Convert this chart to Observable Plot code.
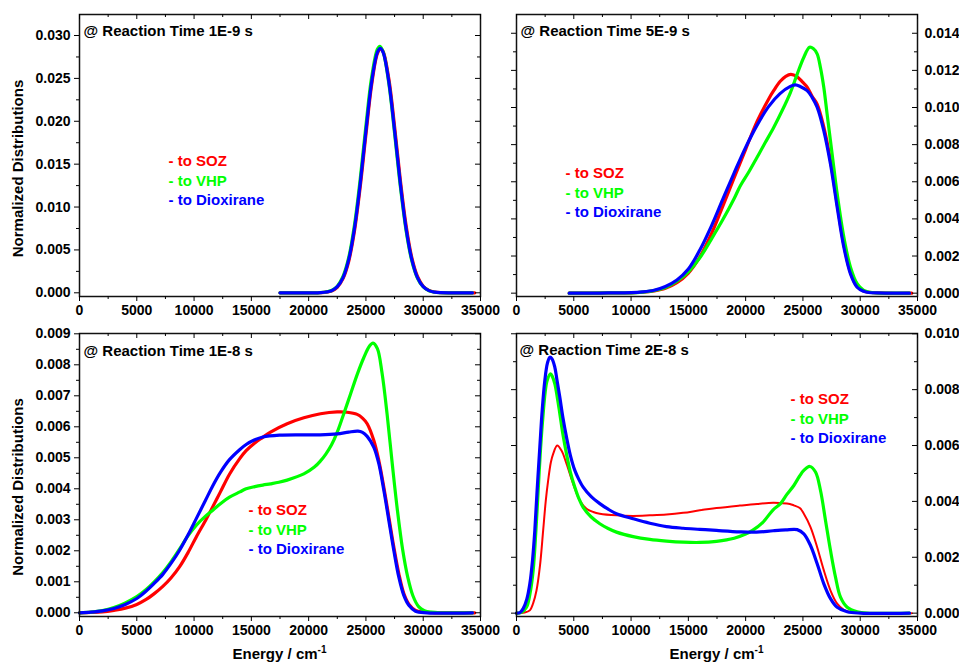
<!DOCTYPE html>
<html>
<head>
<meta charset="utf-8">
<script src="https://cdn.jsdelivr.net/npm/d3@7"></script>
<script src="https://cdn.jsdelivr.net/npm/@observablehq/plot@0.6"></script>
<style>
html, body { margin: 0; padding: 0; background: #fff; }
#chart { position: relative; width: 959px; height: 662px; font-family: "Liberation Sans", Arial, sans-serif; }
#chart svg { position: absolute; overflow: visible; background: transparent; }
.xlab { position: absolute; font-weight: bold; font-size: 15px; white-space: nowrap; transform: translate(-50%, -50%); line-height: 1; color: #000; }
.xlab sup { font-size: 10px; vertical-align: 0; position: relative; top: -6px; }
</style>
</head>
<body>
<div id="chart"></div>
<script>
// ---------- tick values ----------
const xMajor = [0, 5000, 10000, 15000, 20000, 25000, 30000, 35000];
const xMinor = [2500, 7500, 12500, 17500, 22500, 27500, 32500];
const yMajor_1e9 = [0, 0.005, 0.010, 0.015, 0.020, 0.025, 0.030];
const yMinor_1e9 = [0.0025, 0.0075, 0.0125, 0.0175, 0.0225, 0.0275];
const yMajor_5e9 = [0, 0.002, 0.004, 0.006, 0.008, 0.010, 0.012, 0.014];
const yMinor_5e9 = [0.001, 0.003, 0.005, 0.007, 0.009, 0.011, 0.013];
const yMajor_1e8 = [0, 0.001, 0.002, 0.003, 0.004, 0.005, 0.006, 0.007, 0.008, 0.009];
const yMinor_1e8 = [0.0005, 0.0015, 0.0025, 0.0035, 0.0045, 0.0055, 0.0065, 0.0075, 0.0085];
const yMajor_2e8 = [0, 0.002, 0.004, 0.006, 0.008, 0.010];
const yMinor_2e8 = [0.001, 0.003, 0.005, 0.007, 0.009];

// ---------- texts ----------
const titles = ["@ Reaction Time 1E-9 s", "@ Reaction Time 5E-9 s", "@ Reaction Time 1E-8 s", "@ Reaction Time 2E-8 s"];
const seriesNames = ["- to SOZ", "- to VHP", "- to Dioxirane"];
const seriesColors = ["#ff0000", "#00ff00", "#0000ff"];
const yTitle = "Normalized Distributions";

// ---------- data: [energy cm-1, normalized distribution] ----------
// Reaction time 1E-9 s
const soz_1e9 = [[17500,0],[20000,0],[21000,0.00002],[22000,0.00022],[22500,0.00065],[23000,0.00165],[23500,0.00368],[24000,0.00720],[24500,0.01232],[25000,0.01845],[25500,0.02425],[26000,0.02790],[26280,0.02845],[26500,0.02815],[27000,0.02495],[27500,0.01940],[28000,0.01320],[28500,0.00790],[29000,0.00413],[29500,0.00190],[30000,0.00077],[30500,0.00028],[31000,0.00009],[31500,0.00002],[32500,0],[34500,0]];
const vhp_1e9 = [[17500,0],[20000,0],[21000,0.00002],[22000,0.00028],[22500,0.00077],[23000,0.00190],[23500,0.00412],[24000,0.00790],[24500,0.01325],[25000,0.01950],[25500,0.02515],[26000,0.02840],[26220,0.02875],[26500,0.02810],[27000,0.02440],[27500,0.01860],[28000,0.01245],[28500,0.00730],[29000,0.00375],[29500,0.00170],[30000,0.00068],[30500,0.00024],[31000,0.00007],[31500,0.00002],[32500,0],[34300,0]];
const dio_1e9 = [[17500,0],[20000,0],[21000,0.00002],[22000,0.00025],[22500,0.00071],[23000,0.00178],[23500,0.00391],[24000,0.00754],[24500,0.01275],[25000,0.01891],[25500,0.02459],[26000,0.02804],[26250,0.02850],[26500,0.02804],[27000,0.02459],[27500,0.01891],[28000,0.01275],[28500,0.00754],[29000,0.00391],[29500,0.00178],[30000,0.00071],[30500,0.00025],[31000,0.00008],[31500,0.00002],[32500,0],[34300,0]];

// Reaction time 5E-9 s
const soz_5e9 = [[4600,0],[8000,0.00001],[10000,0.00002],[11000,0.00005],[12000,0.00012],[13000,0.00026],[14000,0.00056],[15000,0.00108],[16000,0.00195],[17000,0.00318],[18000,0.00468],[19000,0.00622],[20000,0.00775],[21000,0.00925],[22000,0.01045],[22460,0.01092],[23000,0.01140],[23500,0.01168],[23950,0.01178],[24500,0.01165],[25000,0.01135],[25370,0.01110],[25800,0.01060],[26240,0.01018],[26820,0.00895],[27400,0.00716],[27990,0.00480],[28570,0.00262],[29150,0.00112],[29730,0.00036],[30300,0.00011],[30600,0.00006],[31500,0.00001],[34500,0]];
const vhp_5e9 = [[4600,0],[8000,0.00001],[10000,0.00002],[11000,0.00006],[12000,0.00014],[13000,0.00030],[14000,0.00064],[15000,0.00115],[16000,0.00190],[17000,0.00290],[18000,0.00395],[19000,0.00510],[19550,0.00580],[20300,0.00655],[21000,0.00732],[21700,0.00810],[22460,0.00894],[23200,0.00985],[23915,0.01082],[24500,0.01180],[25080,0.01271],[25575,0.01325],[25900,0.01318],[26240,0.01289],[26530,0.01215],[26820,0.01109],[27100,0.00970],[27400,0.00822],[27700,0.00675],[27990,0.00535],[28570,0.00302],[29150,0.00140],[29730,0.00051],[30310,0.00015],[31190,0.00002],[32000,0],[34300,0]];
const dio_5e9 = [[4600,0],[6000,0],[8000,0.00001],[10000,0.00003],[11000,0.00007],[12000,0.00016],[13000,0.00036],[14000,0.00071],[15000,0.00130],[16000,0.00232],[17000,0.00360],[18000,0.00505],[19000,0.00648],[20000,0.00785],[21000,0.00905],[22000,0.01005],[23000,0.01075],[23900,0.01114],[24350,0.01122],[24800,0.01112],[25370,0.01091],[25800,0.01055],[26240,0.01002],[26820,0.00876],[27400,0.00697],[27990,0.00463],[28570,0.00248],[29150,0.00104],[29730,0.00032],[30300,0.00010],[30600,0.00005],[31500,0.00001],[34300,0]];

// Reaction time 1E-8 s
const soz_1e8 = [[0,0],[1000,0.00001],[2000,0.00003],[3000,0.00008],[4000,0.00015],[5000,0.00027],[5818,0.00043],[6500,0.00061],[7273,0.00085],[8000,0.00113],[8727,0.00148],[9500,0.00196],[10182,0.00244],[11000,0.00298],[11490,0.00332],[12300,0.00390],[13091,0.00447],[14000,0.00498],[14545,0.00523],[15300,0.00548],[16000,0.00566],[16671,0.00583],[18125,0.00610],[19580,0.00629],[21035,0.00642],[22489,0.00648],[23362,0.00647],[24236,0.00640],[24700,0.00628],[25108,0.00610],[25690,0.00556],[26126,0.00491],[26563,0.00405],[26999,0.00309],[27435,0.00212],[27872,0.00126],[28308,0.00062],[28745,0.00028],[29326,0.00008],[30000,0.00002],[31000,0],[34500,0]];
const vhp_1e8 = [[0,0],[1000,0.00002],[2000,0.00007],[3000,0.00017],[4000,0.00032],[5000,0.00052],[5818,0.00075],[6500,0.00099],[7273,0.00130],[8000,0.00165],[8727,0.00205],[9400,0.00245],[10182,0.00282],[11000,0.00312],[11636,0.00331],[12300,0.00352],[13091,0.00373],[14000,0.00390],[14545,0.00400],[15300,0.00407],[16000,0.00412],[16671,0.00416],[17400,0.00421],[18125,0.00428],[19580,0.00448],[20500,0.00470],[21035,0.00490],[21500,0.00512],[22000,0.00542],[22489,0.00582],[23000,0.00635],[23650,0.00705],[24250,0.00770],[24800,0.00822],[25300,0.00860],[25620,0.00870],[26000,0.00852],[26400,0.00775],[26850,0.00640],[27300,0.00480],[27750,0.00330],[28200,0.00205],[28650,0.00115],[29100,0.00055],[29600,0.00020],[30100,0.00007],[30700,0.00002],[31500,0],[34300,0]];
const dio_1e8 = [[0,0],[1000,0.00002],[2000,0.00006],[3000,0.00014],[4000,0.00027],[5000,0.00046],[5818,0.00070],[6500,0.00094],[7273,0.00124],[8000,0.00160],[8727,0.00201],[9500,0.00253],[10182,0.00303],[11000,0.00363],[11636,0.00410],[12300,0.00453],[13091,0.00494],[14000,0.00527],[14545,0.00543],[15300,0.00558],[16000,0.00567],[17454,0.00573],[19580,0.00574],[21000,0.00574],[22489,0.00577],[23500,0.00583],[24300,0.00586],[24700,0.00582],[25108,0.00569],[25690,0.00534],[26126,0.00481],[26563,0.00395],[26999,0.00298],[27435,0.00201],[27872,0.00115],[28308,0.00056],[28745,0.00024],[29326,0.00005],[30345,0],[34300,0]];

// Reaction time 2E-8 s
const soz_2e8 = [[0,0],[700,0.00002],[1164,0.00010],[1450,0.00035],[1745,0.00081],[2050,0.00170],[2327,0.00296],[2550,0.00400],[2764,0.00475],[3000,0.00540],[3200,0.00570],[3549,0.00600],[3927,0.00582],[4364,0.00535],[4945,0.00463],[5527,0.00403],[6109,0.00374],[6700,0.00362],[7273,0.00356],[8727,0.00350],[10182,0.00348],[11636,0.00350],[13091,0.00353],[14545,0.00359],[16000,0.00368],[17454,0.00376],[19493,0.00385],[21000,0.00391],[22402,0.00395],[23043,0.00394],[23857,0.00391],[24207,0.00386],[24729,0.00376],[25079,0.00356],[25661,0.00308],[26243,0.00236],[26825,0.00153],[27407,0.00081],[27988,0.00034],[28570,0.00012],[29443,0.00002],[30500,0],[34500,0]];
const vhp_2e8 = [[0,0],[400,0.00002],[873,0.00021],[1200,0.00075],[1455,0.00153],[1700,0.00300],[1891,0.00439],[2100,0.00590],[2327,0.00714],[2500,0.00790],[2676,0.00833],[2967,0.00857],[3150,0.00845],[3345,0.00821],[3550,0.00775],[3782,0.00714],[4050,0.00640],[4364,0.00570],[4700,0.00505],[5091,0.00451],[5450,0.00410],[5818,0.00379],[6500,0.00345],[7273,0.00320],[8000,0.00303],[8727,0.00290],[10182,0.00274],[11636,0.00264],[13091,0.00258],[14545,0.00254],[16000,0.00253],[17454,0.00257],[19000,0.00268],[20000,0.00283],[20600,0.00296],[21500,0.00325],[22400,0.00370],[23043,0.00392],[23600,0.00425],[24207,0.00457],[24700,0.00490],[25079,0.00511],[25603,0.00525],[26098,0.00505],[26534,0.00439],[26970,0.00332],[27407,0.00224],[27843,0.00129],[28279,0.00057],[28861,0.00021],[29734,0.00005],[30607,0],[34300,0]];
const dio_2e8 = [[0,0],[300,0.00002],[582,0.00016],[900,0.00050],[1164,0.00105],[1400,0.00190],[1600,0.00296],[1800,0.00440],[2036,0.00594],[2250,0.00730],[2473,0.00833],[2700,0.00895],[2909,0.00916],[3100,0.00910],[3345,0.00880],[3550,0.00830],[3782,0.00773],[4050,0.00700],[4364,0.00630],[4700,0.00565],[5091,0.00511],[5450,0.00478],[5818,0.00451],[6500,0.00418],[7273,0.00392],[8000,0.00372],[8727,0.00356],[10182,0.00338],[11636,0.00322],[13091,0.00310],[14545,0.00304],[16000,0.00300],[17454,0.00296],[19493,0.00291],[20947,0.00290],[22402,0.00295],[23500,0.00298],[24498,0.00299],[25079,0.00284],[25661,0.00242],[26243,0.00177],[26825,0.00105],[27407,0.00052],[27988,0.00021],[28861,0.00005],[30025,0],[34300,0]];

// ---------- panels ----------
const panels = [
  {title: titles[0], series: [soz_1e9, vhp_1e9, dio_1e9], widths: [3.2, 3.2, 3.2],
   left: 0, top: 0, width: 490, height: 320, mL: 79, mR: 10, mT: 14, mB: 24,
   yDomain: [-0.00043, 0.03245], yMajor: yMajor_1e9, yMinor: yMinor_1e9, labelSide: "left",
   legend: [89, 147], titlePos: [4, 17], yTitle: true, yTitleDy: 13},
  {title: titles[1], series: [soz_5e9, vhp_5e9, dio_5e9], widths: [3.2, 3.2, 3.2],
   left: 480, top: 0, width: 479, height: 320, mL: 36, mR: 42, mT: 14, mB: 24,
   yDomain: [-0.00018, 0.01501], yMajor: yMajor_5e9, yMinor: yMinor_5e9, labelSide: "right",
   legend: [49, 159], titlePos: [4, 17], yTitle: false},
  {title: titles[2], series: [soz_1e8, vhp_1e8, dio_1e8], widths: [3.2, 3.2, 3.2],
   left: 0, top: 320, width: 490, height: 342, mL: 79, mR: 10, mT: 13, mB: 46,
   yDomain: [-0.00012, 0.00901], yMajor: yMajor_1e8, yMinor: yMinor_1e8, labelSide: "left",
   legend: [169, 177], titlePos: [4, 18], yTitle: true, yTitleDy: 12},
  {title: titles[3], series: [soz_2e8, vhp_2e8, dio_2e8], widths: [2, 3.2, 3.2],
   left: 480, top: 320, width: 479, height: 342, mL: 36, mR: 42, mT: 13, mB: 46,
   yDomain: [-0.00012, 0.01001], yMajor: yMajor_2e8, yMinor: yMinor_2e8, labelSide: "right",
   legend: [274, 66], titlePos: [3, 17], yTitle: false}
];

const chart = document.getElementById("chart");
const fmtY = d => d.toFixed(3);
const fmtX = d => String(d);
const blank = () => "";

for (const p of panels) {
  const plotW = p.width - p.mL - p.mR;
  const plotH = p.height - p.mT - p.mB;
  const marks = [];

  // curves
  p.series.forEach((s, i) => {
    marks.push(Plot.line(s, {x: d => d[0], y: d => d[1], stroke: seriesColors[i], strokeWidth: p.widths[i], curve: "catmull-rom"}));
  });

  // frame
  marks.push(Plot.frame({stroke: "#111", strokeWidth: 1.5}));

  // bottom axis (outward ticks, labels)
  marks.push(Plot.axisX({anchor: "bottom", ticks: xMajor, tickSize: 5, tickPadding: 4, tickFormat: fmtX, label: null, stroke: "#000"}));
  marks.push(Plot.axisX({anchor: "bottom", ticks: xMinor, tickSize: 3, tickFormat: blank, label: null, stroke: "#000"}));
  // top inward ticks
  marks.push(Plot.tickX(xMajor, {x: d => d, insetBottom: plotH - 5, stroke: "#000"}));
  marks.push(Plot.tickX(xMinor, {x: d => d, insetBottom: plotH - 3, stroke: "#000"}));

  // left axis (outward ticks)
  marks.push(Plot.axisY({anchor: "left", ticks: p.yMajor, tickSize: 5, tickPadding: 4,
    tickFormat: p.labelSide === "left" ? fmtY : blank, label: null, stroke: "#000"}));
  marks.push(Plot.axisY({anchor: "left", ticks: p.yMinor, tickSize: 3, tickFormat: blank, label: null, stroke: "#000"}));
  // right side: inward ticks, optional labels
  if (p.labelSide === "right") {
    marks.push(Plot.axisY({anchor: "right", ticks: p.yMajor, tickSize: 0, tickPadding: 7, tickFormat: fmtY, label: null}));
  }
  marks.push(Plot.tickY(p.yMajor, {y: d => d, insetLeft: plotW - 5, stroke: "#000"}));
  marks.push(Plot.tickY(p.yMinor, {y: d => d, insetLeft: plotW - 3, stroke: "#000"}));

  // title
  marks.push(Plot.text([p.title], {text: d => d, frameAnchor: "top-left", textAnchor: "start", lineAnchor: "middle",
    dx: p.titlePos[0], dy: p.titlePos[1], fontSize: 15, fill: "#000"}));

  // legend texts
  seriesNames.forEach((name, i) => {
    marks.push(Plot.text([name], {text: d => d, frameAnchor: "top-left", textAnchor: "start", lineAnchor: "middle",
      dx: p.legend[0], dy: p.legend[1] + i * 19.5, fontSize: 15, fill: seriesColors[i]}));
  });

  // y axis title
  if (p.yTitle) {
    marks.push(Plot.text([yTitle], {text: d => d, frameAnchor: "left", rotate: -90, textAnchor: "middle", lineAnchor: "middle",
      dx: -61.5, dy: p.yTitleDy, fontSize: 15, fill: "#000"}));
  }

  const svg = Plot.plot({
    width: p.width, height: p.height,
    marginLeft: p.mL, marginRight: p.mR, marginTop: p.mT, marginBottom: p.mB,
    x: {domain: [0, 35000]},
    y: {domain: p.yDomain},
    style: {fontFamily: '"Liberation Sans", Arial, sans-serif', fontSize: "14px", fontWeight: "bold",
            background: "transparent", overflow: "visible", color: "#000"},
    marks
  });
  svg.style.left = p.left + "px";
  svg.style.top = p.top + "px";
  chart.appendChild(svg);
}

// x axis titles (with superscript)
for (const cx of [279.5, 716.5]) {
  const div = document.createElement("div");
  div.className = "xlab";
  div.style.left = cx + "px";
  div.style.top = "653px";
  div.innerHTML = "Energy / cm<sup>-1</sup>";
  chart.appendChild(div);
}
</script>
</body>
</html>
